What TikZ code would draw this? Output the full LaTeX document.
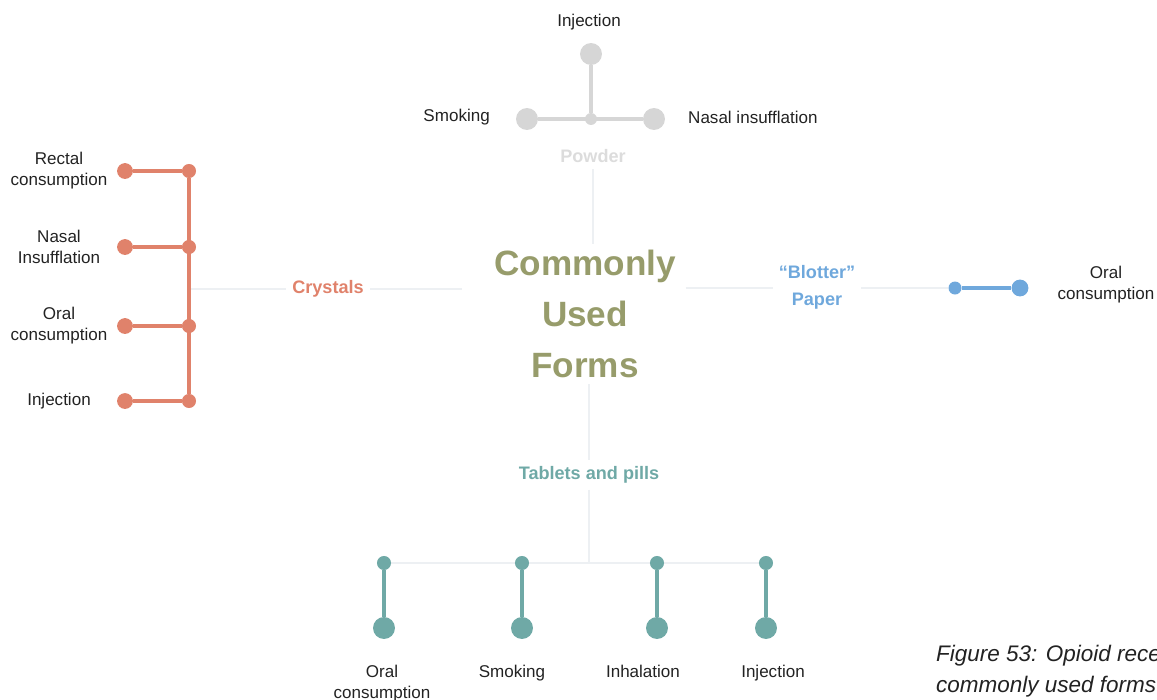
\documentclass[tikz,border=0pt]{standalone}
\usepackage{fontspec}
\setmainfont{Liberation Sans}
\usetikzlibrary{positioning,backgrounds}

\definecolor{powdergray}{HTML}{D6D6D6}
\definecolor{powdertext}{HTML}{DCDCDC}
\definecolor{crystalred}{HTML}{E0826B}
\definecolor{blotterblue}{HTML}{6FA8DC}
\definecolor{pillteal}{HTML}{6FA9A6}
\definecolor{titleolive}{HTML}{979C6B}
\definecolor{linkgray}{HTML}{EDF0F3}
\definecolor{inkdark}{HTML}{222222}

\begin{document}
\begin{tikzpicture}[x=0.02cm, y=-0.02cm,
	dot/.style={circle, fill=#1, inner sep=0pt},
	formtext/.style={text=inkdark, font=\fontsize{9.7}{12}\selectfont, align=center},
	branchtext/.style={font=\bfseries\fontsize{10.3}{15.5}\selectfont, align=center},
	link/.style={linkgray, line width=1.2pt}]
	% Marco
	\path[use as bounding box, clip] (0,0) rectangle (1157,700);
	
	% Centro
	\node[text=titleolive, font=\bfseries\fontsize{20}{29}\selectfont, align=center] (title) at (585,314) {Commonly\\Used\\Forms};
	
	% Polvo
	\node[branchtext, text=powdertext] (powder) at (593,156) {Powder};
	\node[dot=powdergray, minimum size=6.8pt] (pc) at (591,119) {};
	\node[dot=powdergray, minimum size=12.5pt] (pl) at (527,119) {};
	\node[dot=powdergray, minimum size=12.5pt] (pr) at (654,119) {};
	\node[dot=powdergray, minimum size=12.5pt] (pt) at (591,54) {};
	\draw[powdergray, line width=2.4pt] (pl) -- (pr);
	\draw[powdergray, line width=2.4pt] (pc) -- (pt);
	\node[formtext] (ptl) at (589,22) {Injection};
	\node[formtext, anchor=east] (pll) at (496,117) {Smoking};
	\node[formtext, anchor=west] (prl) at (682,117) {Nasal insufflation};
	
	% Cristales
	\node[branchtext, text=crystalred] (crys) at (328,289) {Crystals};
	\coordinate (cjoin) at (189,289);
	\foreach \y/\n/\label in {
		171/a/{Rectal\\consumption},
		247/b/{Nasal\\Insufflation},
		326/c/{Oral\\consumption},
		401/d/{Injection}} {
		\node[dot=crystalred, minimum size=8pt] (cr\n) at (189,\y) {};
		\node[dot=crystalred, minimum size=9pt] (cl\n) at (125,\y) {};
		\draw[crystalred, line width=2pt] (cl\n) -- (cr\n);
		\node[formtext] (ct\n) at (59,\y) {\label};
	}
	\draw[crystalred, line width=2pt] (cra) -- (crd);
	
	% Papel secante
	\node[branchtext, text=blotterblue] (blot) at (817,287) {``Blotter''\\Paper};
	\node[dot=blotterblue, minimum size=7.4pt] (bla) at (955,288) {};
	\node[dot=blotterblue, minimum size=9.6pt] (blb) at (1020,288) {};
	\draw[blotterblue, line width=2pt] (bla) -- (blb);
	\node[formtext] (blt) at (1106,285) {Oral\\consumption};
	
	% Tabletas
	\node[branchtext, text=pillteal] (tabs) at (589,475) {Tablets and pills};
	\coordinate (tjoin) at (589,563);
	\foreach \n/\x/\lx/\label in {
		a/384/382/{Oral\\consumption},
		b/522/512/{Smoking},
		c/657/643/{Inhalation},
		d/766/773/{Injection}} {
		\node[dot=pillteal, minimum size=8pt] (ts\n) at (\x,563) {};
		\node[dot=pillteal, minimum size=12.5pt] (tb\n) at (\x,628) {};
		\draw[pillteal, line width=2.6pt] (ts\n) -- (tb\n);
		\node[formtext, anchor=north] (tt\n) at (\lx,659) {\label};
	}
	
	% Conectores grises
	\begin{scope}[on background layer]
		\draw[link] (powder.south) -- (powder.south |- title.north);
		\draw[link] (crys.west) -- (cjoin);
		\draw[link] (crys.east) -- ([xshift=-15pt]crys -| title.west);
		\draw[link] ([xshift=2pt]bla -| title.east) -- (blot.west |- bla);
		\draw[link] (blot.east |- bla) -- (bla);
		\draw[link] (tabs.north |- title.south) -- (tabs.north);
		\draw[link] (tabs.south) -- (tjoin);
		\draw[link] (tsa) -- (tsd);
	\end{scope}
	
	% Pie de figura
	\node[anchor=north west, text=inkdark, font=\itshape\fontsize{12.8}{17.6}\selectfont, align=left] (caption) at (930,639) {Figure 53: Opioid rece\\commonly used forms};
\end{tikzpicture}
\end{document}
